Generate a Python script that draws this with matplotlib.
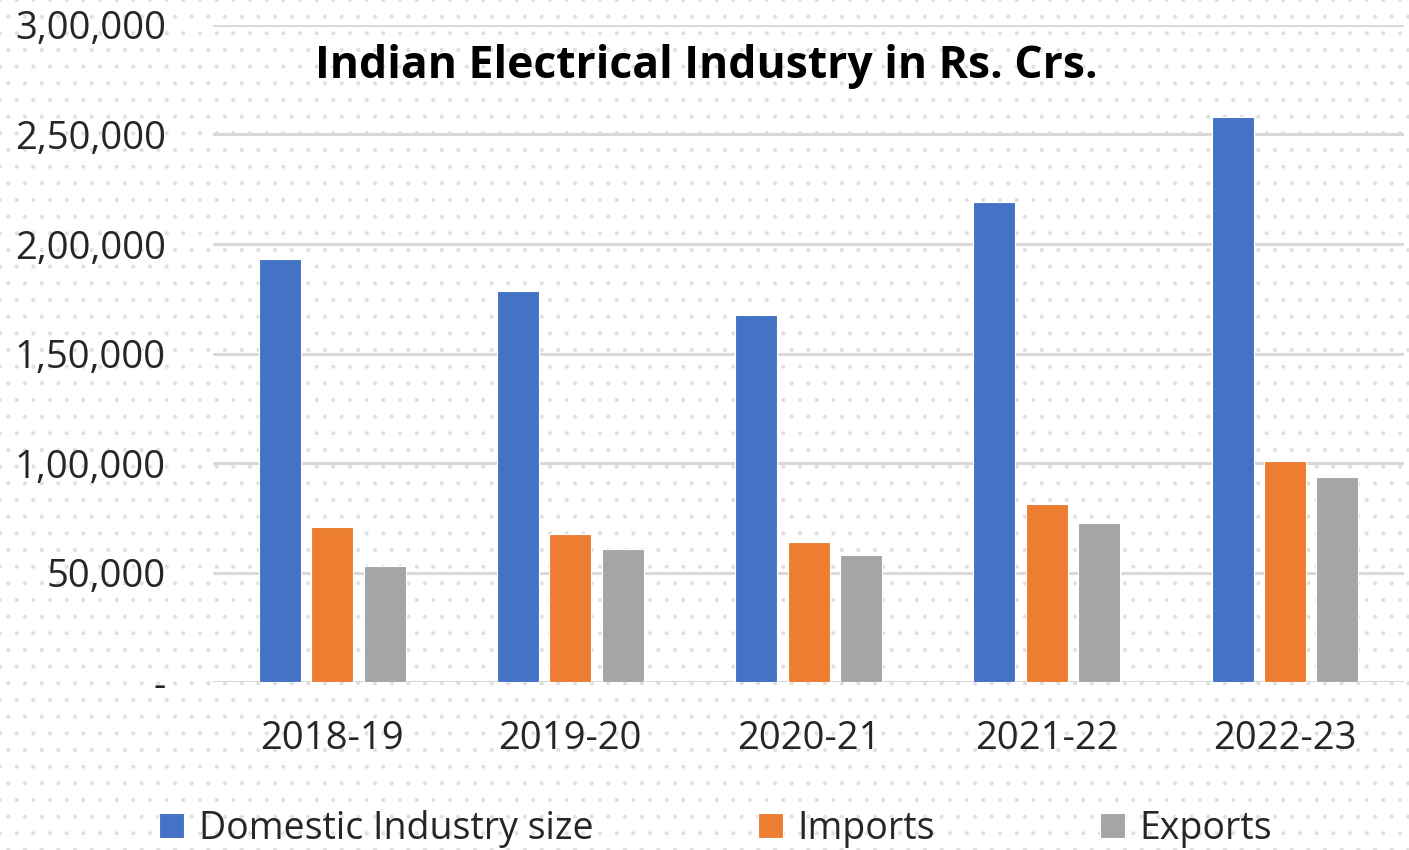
import matplotlib
matplotlib.use("Agg")
import matplotlib.pyplot as plt
import numpy as np
from matplotlib.ticker import FuncFormatter
from matplotlib.patches import Rectangle

years = ["2018-19", "2019-20", "2020-21", "2021-22", "2022-23"]
domestic = [193000, 178500, 167500, 219000, 258000]
imports_ = [71000, 67400, 63900, 81300, 101000]
exports_ = [53000, 60600, 58000, 72600, 93800]
series_names = ["Domestic Industry size", "Imports", "Exports"]
colors = ["#4472C4", "#ED7D31", "#A5A5A5"]
yticks = [0, 50000, 100000, 150000, 200000, 250000, 300000]

plt.rcParams['font.family'] = ['Open Sans', 'DejaVu Sans']
plt.rcParams['hatch.linewidth'] = 0.6

fig = plt.figure(figsize=(14.09, 8.5), dpi=100)
fig.patch.set_facecolor("white")
bg = Rectangle((0, 0), 1, 1, transform=fig.transFigure, facecolor="white",
               edgecolor="#E0E0E0", hatch=".", linewidth=0, zorder=-10)
fig.patches.append(bg)

ax = fig.add_axes([0.1512, 0.1976, 0.8453, 0.773])
ax.set_facecolor("none")

x = np.arange(len(years))
w = 0.176
off = 0.22
for i, (vals, name, c) in enumerate(zip([domestic, imports_, exports_], series_names, colors)):
    ax.bar(x + (i - 1) * off, vals, width=w, color=c, label=name,
           edgecolor="white", linewidth=0.8, zorder=3)

ax.set_xlim(-0.5, 4.5)
ax.set_ylim(0, 300000)
ax.set_yticks(yticks)

def indian(v, pos):
    v = int(round(v))
    if v == 0:
        return "-"
    s = str(v)
    last3 = s[-3:]
    rest = s[:-3]
    parts = []
    while len(rest) > 2:
        parts.insert(0, rest[-2:])
        rest = rest[:-2]
    if rest:
        parts.insert(0, rest)
    return ",".join(parts + [last3])

ax.yaxis.set_major_formatter(FuncFormatter(indian))
ax.set_xticks(x)
ax.set_xticklabels(years)
ax.grid(axis="y", color="#D9D9D9", linewidth=2.2, zorder=0)
ax.set_axisbelow(True)
for s in ax.spines.values():
    s.set_visible(False)
ax.tick_params(axis="both", length=0, labelsize=27.5, colors="#262626")
ax.tick_params(axis="y", pad=34)
ax.tick_params(axis="x", pad=27)

fig.text(0.501, 0.922, "Indian Electrical Industry in Rs. Crs.", ha="center", va="center",
         fontsize=32, fontweight="bold", color="black")

handles, labels = ax.get_legend_handles_labels()
leg = fig.legend(handles, labels, loc="center", bbox_to_anchor=(0.508, 0.025), ncol=3,
                 frameon=False, fontsize=27, handlelength=0.65, handleheight=0.65,
                 handletextpad=0.4, columnspacing=4.4, labelcolor="#262626")

fig.savefig("out.png", dpi=100, facecolor="white")
